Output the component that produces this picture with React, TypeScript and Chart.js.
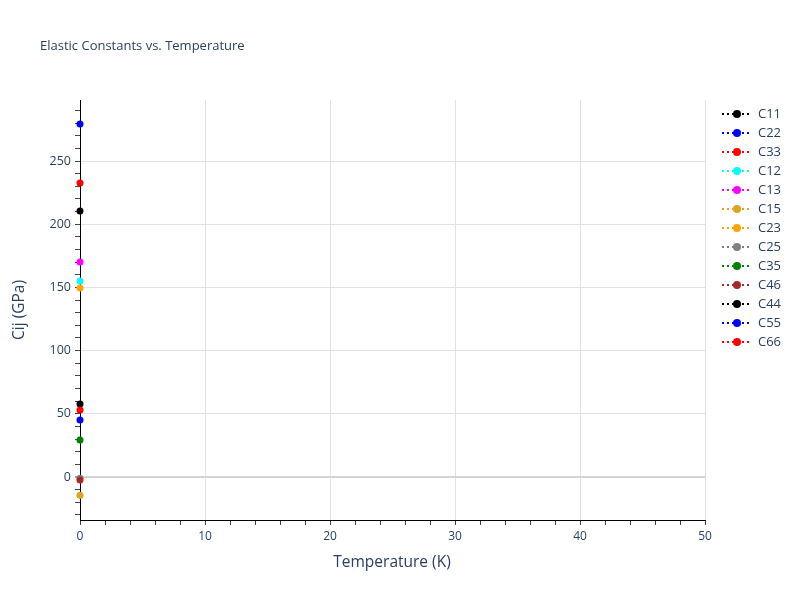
import React, { useEffect, useRef } from "react";
import { Chart, registerables } from "chart.js";
Chart.register(...registerables);

const seriesNames = ["C11", "C22", "C33", "C12", "C13", "C15", "C23", "C25", "C35", "C46", "C44", "C55", "C66"];
const seriesColors = ["#000000", "#0000ff", "#ff0000", "#00ffff", "#ff00ff", "#daa520", "#ffa500", "#808080", "#008000", "#a52a2a", "#000000", "#0000ff", "#ff0000"];
const temperatures = [0];
// one value per series at each temperature (GPa)
const cijValues = [210.4, 279.3, 232.6, 155.1, 170.1, -14.5, 149.5, -1.0, 29.3, -2.4, 57.8, 45.1, 53.0];

const chartTitle = "Elastic Constants vs. Temperature";
const xTitle = "Temperature (K)";
const yTitle = "Cij (GPa)";
const textColor = "#2a3f5f";
const fontFamily = "'Open Sans', verdana, arial, sans-serif";

export default function App() {
  const ref = useRef<HTMLCanvasElement | null>(null);
  useEffect(() => {
    if (!ref.current) return;
    const datasets = seriesNames.map((name, i) => ({
      label: name,
      data: temperatures.map((t) => ({ x: t, y: cijValues[i] })),
      borderColor: seriesColors[i],
      backgroundColor: seriesColors[i],
      showLine: true,
      borderDash: [2, 3],
      borderWidth: 2,
      pointRadius: 3.5,
      pointBorderWidth: 0,
      clip: false as any,
      order: -i,
    }));
    const overlay = {
      id: "overlay",
      afterDraw(chart: any) {
        const ctx = chart.ctx as CanvasRenderingContext2D;
        ctx.save();
        ctx.fillStyle = textColor;
        ctx.textBaseline = "middle";
        ctx.font = `13px ${fontFamily}`;
        ctx.textAlign = "left";
        ctx.fillText(chartTitle, 40, 46);
        ctx.font = `15.5px ${fontFamily}`;
        ctx.textAlign = "center";
        const area = chart.chartArea;
        ctx.fillText(xTitle, 392, 563);
        ctx.save();
        ctx.translate(20, (area.top + area.bottom) / 2);
        ctx.rotate(-Math.PI / 2);
        ctx.fillText(yTitle, 0, 0);
        ctx.restore();
        // legend
        chart.data.datasets.forEach((ds: any, i: number) => {
          const y = 114 + i * 19;
          ctx.strokeStyle = ds.borderColor;
          ctx.lineWidth = 2;
          ctx.setLineDash([2, 3]);
          ctx.beginPath();
          ctx.moveTo(722, y);
          ctx.lineTo(752, y);
          ctx.stroke();
          ctx.setLineDash([]);
          ctx.fillStyle = ds.backgroundColor;
          ctx.beginPath();
          ctx.arc(737, y, 4, 0, Math.PI * 2);
          ctx.fill();
          ctx.fillStyle = textColor;
          ctx.font = `13px ${fontFamily}`;
          ctx.textAlign = "left";
          ctx.fillText(ds.label, 758, y);
        });
        ctx.restore();
      },
    };
    const chart = new Chart(ref.current, {
      type: "scatter",
      data: { datasets },
      plugins: [overlay],
      options: {
        animation: false,
        responsive: false,
        layout: { padding: { top: 100, right: 95, left: 0, bottom: 0 } },
        plugins: { legend: { display: false }, tooltip: { enabled: false }, title: { display: false } },
        scales: {
          x: {
            type: "linear",
            min: 0,
            max: 50,
            afterFit: (s: any) => { s.height = 80; },
            ticks: {
              stepSize: 2,
              autoSkip: false,
              maxRotation: 0,
              includeBounds: false,
              color: textColor,
              font: { family: fontFamily, size: 12 },
              padding: 4,
              callback: (v: any) => (Number(v) % 10 === 0 ? String(v) : ""),
            },
            grid: {
              color: (c: any) => (c.tick && c.tick.value % 10 === 0 && c.tick.value !== 0 ? "#e2e2e2" : "rgba(0,0,0,0)"),
              lineWidth: 1,
              drawTicks: true,
              tickLength: 5,
              tickColor: "#444",
              tickWidth: 1,
            },
            border: { display: true, color: "#000", width: 1 },
          },
          y: {
            type: "linear",
            min: -34,
            max: 298.3,
            afterFit: (s: any) => { s.width = 80; },
            ticks: {
              stepSize: 10,
              autoSkip: false,
              includeBounds: false,
              color: textColor,
              font: { family: fontFamily, size: 12.5 },
              padding: 4,
              callback: (v: any) => (Number(v) % 50 === 0 ? String(v) : ""),
            },
            grid: {
              color: (c: any) => {
                const v = c.tick ? c.tick.value : NaN;
                if (v === 0) return "#d4d4d4";
                return v % 50 === 0 ? "#e2e2e2" : "rgba(0,0,0,0)";
              },
              lineWidth: (c: any) => (c.tick && c.tick.value === 0 ? 2 : 1),
              drawTicks: true,
              tickLength: 5,
              tickColor: "#444",
              tickWidth: 1,
            },
            border: { display: true, color: "#000", width: 1 },
          },
        },
      },
    } as any);
    return () => chart.destroy();
  }, []);
  return (
    <div style={{ position: "absolute", left: 0, top: 0, width: 800, height: 600, background: "#fff" }}>
      <canvas ref={ref} width={800} height={600} />
    </div>
  );
}
